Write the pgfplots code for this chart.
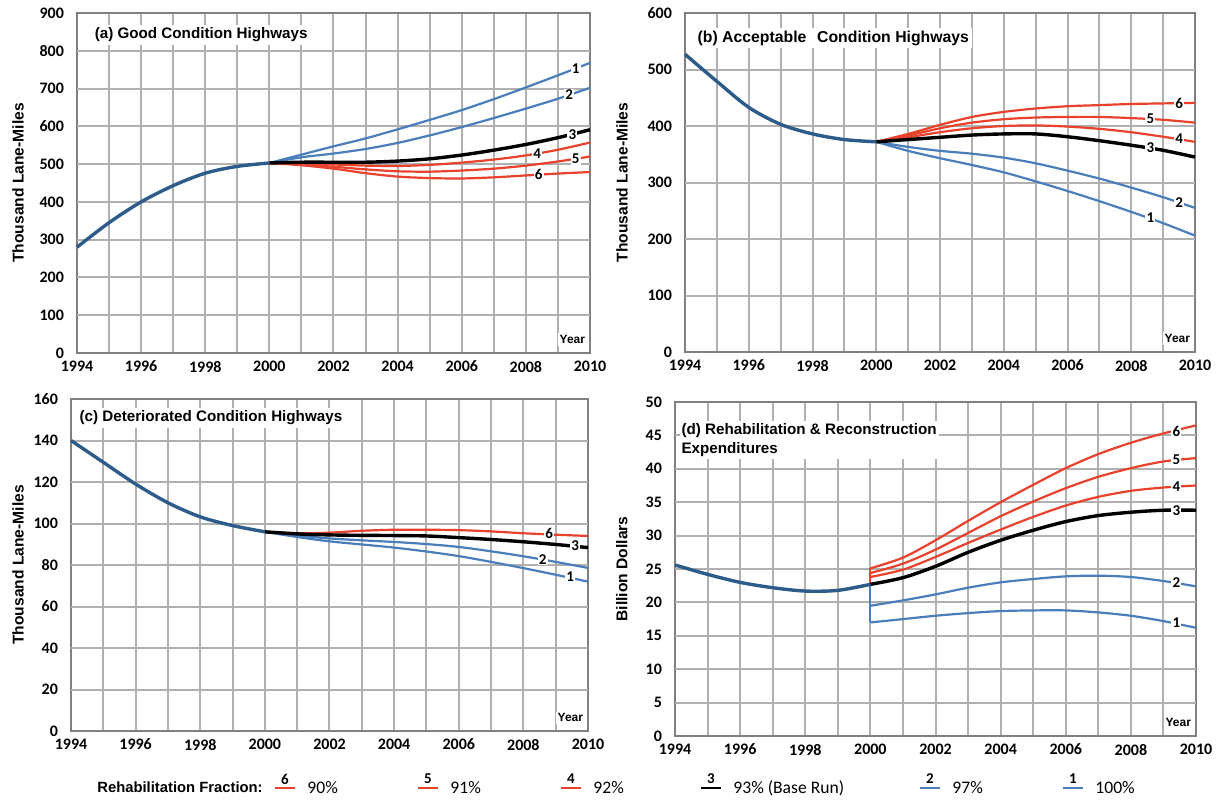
\documentclass[border=0pt]{standalone}
\usepackage{fontspec}
\setmainfont{Liberation Sans}
\newfontfamily\carl{Carlito}
\usepackage{pgfplots}
\pgfplotsset{compat=1.18}
\definecolor{rd}{HTML}{E8412C}
\definecolor{bl}{HTML}{4A7EBB}
\definecolor{tr}{HTML}{2E5C8A}
\definecolor{gr}{HTML}{B0B0B0}
\tikzset{
  ttl/.style={anchor=west, fill=white, inner sep=1.5pt, font=\bfseries\fontsize{7.6}{9.5}\selectfont},
  yr/.style={anchor=south east, fill=white, inner sep=1pt, font=\bfseries\fontsize{6}{7}\selectfont},
  lb/.style={fill=white, inner sep=0.6pt, font=\carl\bfseries\fontsize{7.5}{8}\selectfont},
  hg/.style={gr, line width=1pt},
}
\pgfplotsset{
  panel/.style={
    scale only axis, anchor=south west,
    xmin=1994, xmax=2010, ymin=0,
    xtick={1994,1995,...,2010},
    xticklabels={1994,,1996,,1998,,2000,,2002,,2004,,2006,,2008,,2010},
    xmajorgrids=true, ymajorgrids=true,
    major grid style={draw=gr, line width=1pt},
    axis line style={draw=black!50, line width=0.7pt},
    major tick length=0pt,
    /pgf/number format/assume math mode=true,
    /pgf/number format/1000 sep={},
    xticklabel style={font=\carl\bfseries\fontsize{8}{9}\selectfont, yshift=-0.5pt},
    yticklabel style={font=\carl\bfseries\fontsize{8}{9}\selectfont, xshift=-3pt},
    ylabel style={font=\bfseries\fontsize{7.8}{9}\selectfont, anchor=center},
    clip=false,
  },
  bll/.style={bl, line width=1.1pt, smooth, tension=0.5},
  rdl/.style={rd, line width=1.1pt, smooth, tension=0.5},
  bkl/.style={black, line width=1.7pt, smooth, tension=0.5},
  trl/.style={tr, line width=1.7pt, smooth, tension=0.5},
  jmp/.style={line width=1.1pt},
}
\begin{document}
\begin{tikzpicture}
\useasboundingbox (0,0) rectangle (609.5pt,399.5pt);
% ---------------- (a)
\begin{axis}[panel, at={(38.5pt,223pt)}, width=256.5pt, height=170pt,
  ymax=900, ytick={0,100,...,900}, ylabel={Thousand Lane-Miles},
  ylabel style={at={(axis description cs:-0.115,0.5)}}]
\pgfplotsinvokeforeach{100,200,300,400,500,600,700,800}{\draw[hg] (axis cs:1994,#1) -- (axis cs:2010,#1);}
\addplot[bll] coordinates {(2000,503)(2001,525)(2002,547)(2003,568)(2004,592)(2005,617)(2006,643)(2007,672)(2008,703)(2009,735)(2010,768)};
\addplot[bll] coordinates {(2000,503)(2001,518)(2002,528)(2003,540)(2004,556)(2005,576)(2006,598)(2007,622)(2008,647)(2009,673)(2010,702)};
\addplot[rdl] coordinates {(2000,503)(2001,502)(2002,499)(2003,496)(2004,495)(2005,498)(2006,504)(2007,512)(2008,523)(2009,538)(2010,557)};
\addplot[rdl] coordinates {(2000,503)(2001,499)(2002,493)(2003,486)(2004,481)(2005,480)(2006,483)(2007,488)(2008,496)(2009,507)(2010,520)};
\addplot[rdl] coordinates {(2000,503)(2001,497)(2002,488)(2003,476)(2004,467)(2005,463)(2006,462)(2007,465)(2008,470)(2009,475)(2010,479)};
\addplot[bkl] coordinates {(2000,503)(2001,505)(2002,505)(2003,505)(2004,508)(2005,514)(2006,524)(2007,537)(2008,552)(2009,570)(2010,591)};
\addplot[trl] coordinates {(1994,280)(1995,345)(1996,400)(1997,443)(1998,476)(1999,494)(2000,503)};
\node[lb] at (axis cs:2009.55,753) {1};
\node[lb] at (axis cs:2009.35,683) {2};
\node[lb] at (axis cs:2009.45,578) {3};
\node[lb] at (axis cs:2008.35,527) {4};
\node[lb] at (axis cs:2009.55,514) {5};
\node[lb] at (axis cs:2008.4,472) {6};
\node[ttl] at (rel axis cs:0.028,0.935) {(a) Good Condition Highways};
\node[yr] at (rel axis cs:0.995,0.02) {Year};
\end{axis}
% ---------------- (b)
\begin{axis}[panel, at={(342.5pt,223.5pt)}, width=255pt, height=169.5pt,
  ymax=600, ytick={0,100,...,600}, ylabel={Thousand Lane-Miles},
  ylabel style={at={(axis description cs:-0.1235,0.5)}}]
\pgfplotsinvokeforeach{100,200,300,400,500}{\draw[hg] (axis cs:1994,#1) -- (axis cs:2010,#1);}
\addplot[bll] coordinates {(2000,372)(2001,363)(2002,356)(2003,351)(2004,344)(2005,334)(2006,321)(2007,307)(2008,291)(2009,274)(2010,255)};
\addplot[bll] coordinates {(2000,372)(2001,356)(2002,343)(2003,331)(2004,318)(2005,302)(2006,285)(2007,267)(2008,248)(2009,228)(2010,206)};
\addplot[rdl] coordinates {(2000,372)(2001,386)(2002,402)(2003,416)(2004,425)(2005,431)(2006,435)(2007,437)(2008,439)(2009,440)(2010,441)};
\addplot[rdl] coordinates {(2000,372)(2001,383)(2002,396)(2003,406)(2004,412)(2005,415)(2006,416)(2007,416)(2008,414)(2009,411)(2010,406)};
\addplot[rdl] coordinates {(2000,372)(2001,380)(2002,389)(2003,396)(2004,400)(2005,401)(2006,399)(2007,395)(2008,389)(2009,381)(2010,372)};
\addplot[bkl] coordinates {(2000,372)(2001,376)(2002,380)(2003,384)(2004,386)(2005,386)(2006,381)(2007,374)(2008,366)(2009,357)(2010,345)};
\addplot[trl] coordinates {(1994,527)(1995,479)(1996,433)(1997,403)(1998,386)(1999,376)(2000,372)};
\node[lb] at (axis cs:2009.5,440) {6};
\node[lb] at (axis cs:2008.6,413) {5};
\node[lb] at (axis cs:2009.5,377) {4};
\node[lb] at (axis cs:2008.6,361) {3};
\node[lb] at (axis cs:2009.5,265) {2};
\node[lb] at (axis cs:2008.6,237) {1};
\node[ttl, font=\bfseries\fontsize{7.9}{9.5}\selectfont] at (rel axis cs:0.018,0.926) {(b) Acceptable\hspace{0.4em} Condition Highways};
\node[yr] at (rel axis cs:0.995,0.02) {Year};
\end{axis}
% ---------------- (c)
\begin{axis}[panel, at={(35.5pt,34pt)}, width=258.5pt, height=166pt,
  ymax=160, ytick={0,20,...,160}, ylabel={Thousand Lane-Miles},
  ylabel style={at={(axis description cs:-0.1025,0.5)}}]
\pgfplotsinvokeforeach{20,40,60,80,100,120,140}{\draw[hg] (axis cs:1994,#1) -- (axis cs:2010,#1);}
\addplot[bll] coordinates {(2000,96)(2001,94.2)(2002,92.8)(2003,91.9)(2004,91.1)(2005,90.1)(2006,88.7)(2007,86.6)(2008,84.2)(2009,81.5)(2010,78.6)};
\addplot[bll] coordinates {(2000,96)(2001,93.5)(2002,91.4)(2003,89.9)(2004,88.4)(2005,86.5)(2006,84.3)(2007,81.5)(2008,78.5)(2009,75.3)(2010,72)};
\addplot[rdl] coordinates {(2000,96)(2001,95.3)(2002,95.6)(2003,96.5)(2004,97)(2005,97)(2006,96.8)(2007,96.2)(2008,95.3)(2009,94.6)(2010,94)};
\addplot[bkl] coordinates {(2000,96)(2001,95)(2002,94.5)(2003,94.3)(2004,94.2)(2005,94)(2006,93.2)(2007,92.3)(2008,91.2)(2009,89.9)(2010,88.4)};
\addplot[trl] coordinates {(1994,140)(1995,129.5)(1996,119)(1997,110)(1998,103.2)(1999,99)(2000,96)};
\node[lb] at (axis cs:2008.8,95) {6};
\node[lb] at (axis cs:2009.6,89.5) {3};
\node[lb] at (axis cs:2008.6,82.8) {2};
\node[lb] at (axis cs:2009.45,74.5) {1};
\node[ttl] at (rel axis cs:0.01,0.943) {(c) Deteriorated Condition Highways};
\node[yr] at (rel axis cs:0.995,0.02) {Year};
\end{axis}
% ---------------- (d)
\begin{axis}[panel, at={(337.5pt,31.5pt)}, width=260.5pt, height=167pt,
  ymax=50, ytick={0,5,...,50}, ylabel={Billion Dollars},
  ylabel style={at={(axis description cs:-0.102,0.5)}}]
\pgfplotsinvokeforeach{5,10,15,20,25,30,35,40,45}{\draw[hg] (axis cs:1994,#1) -- (axis cs:2010,#1);}
\addplot[bl, jmp] coordinates {(2000,22.7)(2000,17.0)};
\addplot[bl, jmp] coordinates {(2000,22.7)(2000,19.5)};
\addplot[rd, jmp] coordinates {(2000,22.7)(2000,25.1)};
\addplot[bll] coordinates {(2000,19.5)(2001,20.3)(2002,21.2)(2003,22.2)(2004,23.0)(2005,23.5)(2006,23.9)(2007,24.0)(2008,23.8)(2009,23.2)(2010,22.4)};
\addplot[bll] coordinates {(2000,17.0)(2001,17.5)(2002,18.0)(2003,18.4)(2004,18.7)(2005,18.8)(2006,18.8)(2007,18.5)(2008,18.0)(2009,17.2)(2010,16.2)};
\addplot[rdl] coordinates {(2000,23.8)(2001,24.9)(2002,26.8)(2003,28.9)(2004,30.9)(2005,32.8)(2006,34.5)(2007,35.8)(2008,36.7)(2009,37.2)(2010,37.5)};
\addplot[rdl] coordinates {(2000,24.4)(2001,25.8)(2002,27.9)(2003,30.4)(2004,32.9)(2005,35.1)(2006,37.1)(2007,38.8)(2008,40.1)(2009,41.1)(2010,41.6)};
\addplot[rdl] coordinates {(2000,25.1)(2001,26.7)(2002,29.3)(2003,32.2)(2004,35.0)(2005,37.6)(2006,40.1)(2007,42.2)(2008,43.9)(2009,45.3)(2010,46.5)};
\addplot[bkl] coordinates {(2000,22.7)(2001,23.7)(2002,25.4)(2003,27.5)(2004,29.3)(2005,30.8)(2006,32.1)(2007,33.0)(2008,33.5)(2009,33.8)(2010,33.8)};
\addplot[trl] coordinates {(1994,25.6)(1995,24.2)(1996,23.0)(1997,22.2)(1998,21.7)(1999,21.8)(2000,22.7)};
\node[lb] at (axis cs:2009.4,45.6) {6};
\node[lb] at (axis cs:2009.4,41.4) {5};
\node[lb] at (axis cs:2009.4,37.4) {4};
\node[lb] at (axis cs:2009.4,33.8) {3};
\node[lb] at (axis cs:2009.4,23.0) {2};
\node[lb] at (axis cs:2009.4,16.9) {1};
\node[ttl, align=left, inner sep=1pt] at (rel axis cs:0.008,0.886) {(d) Rehabilitation \& Reconstruction\\Expenditures};
\node[yr] at (rel axis cs:0.995,0.02) {Year};
\end{axis}
% ---------------- legend
\node[anchor=west, inner sep=0pt, font=\bfseries\fontsize{7.4}{9}\selectfont] at (48.5pt,6pt) {Rehabilitation Fraction:};
\foreach \xx/\cc/\nn/\lt in {142.5/rd/6/90\%, 214/rd/5/91\%, 285.5/rd/4/92\%, 355.5/black/3/93\% (Base Run), 465/bl/2/97\%, 536.5/bl/1/100\%}{
  \draw[\cc, line width=1.3pt] (\xx pt-5pt,5.5pt) -- (\xx pt+5pt,5.5pt);
  \node[font=\carl\bfseries\fontsize{7.5}{8}\selectfont, inner sep=0pt] at (\xx pt,10pt) {\nn};
  \node[anchor=west, inner sep=0pt, font=\carl\fontsize{8.8}{10}\selectfont] at (\xx pt+11pt,5.5pt) {\lt};
}
\end{tikzpicture}
\end{document}
